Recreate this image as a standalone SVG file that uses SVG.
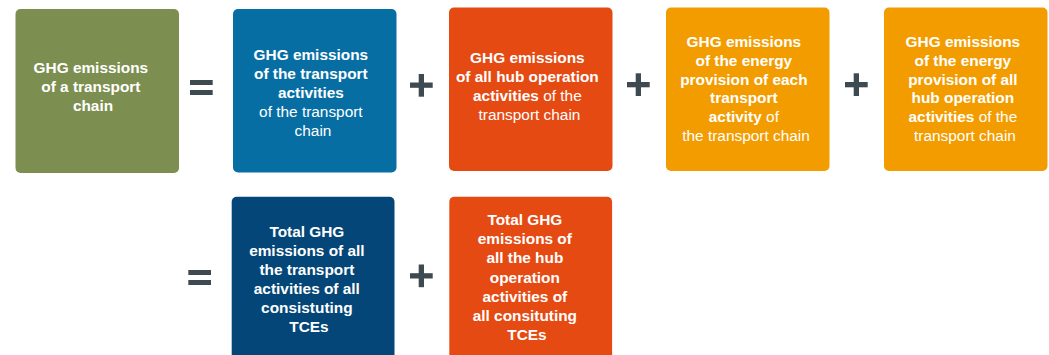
<svg xmlns="http://www.w3.org/2000/svg" width="1049" height="355" viewBox="0 0 1049 355">
  <style>
    .box { stroke: none; }
    .t { font-family: "Liberation Sans", Arial, Helvetica, sans-serif; font-size: 15.4px; fill: #ffffff; text-anchor: middle; }
    .b { font-weight: bold; }
    .n { font-weight: normal; }
    .op { fill: #3e4a51; }
  </style>
  <rect width="1049" height="355" fill="#ffffff"/>

  <g id="node-chain">
    <rect class="box" x="15.5" y="9" width="163.5" height="164" rx="5" fill="#7d8f50"/>
    <text class="t b" x="93">
      <tspan x="93" y="73">GHG emissions</tspan>
      <tspan x="93" y="92">of a transport</tspan>
      <tspan x="93" y="111">chain</tspan>
    </text>
  </g>

  <g id="node-transport">
    <rect class="box" x="233" y="9" width="163.5" height="163.5" rx="5" fill="#076ea4"/>
    <text class="t" x="313">
      <tspan class="b" x="313" y="60">GHG emissions</tspan>
      <tspan class="b" x="313" y="79">of the transport</tspan>
      <tspan class="b" x="313" y="98">activities</tspan>
      <tspan class="n" x="313" y="117">of the transport</tspan>
      <tspan class="n" x="313" y="136">chain</tspan>
    </text>
  </g>

  <g id="node-hub">
    <rect class="box" x="449" y="7.5" width="163.5" height="163.5" rx="5" fill="#e64a13"/>
    <text class="t" x="529.5">
      <tspan class="b" x="529.5" y="63.3">GHG emissions</tspan>
      <tspan class="b" x="529.5" y="82.2">of all hub operation</tspan>
      <tspan x="529.5" y="101.1"><tspan class="b">activities</tspan><tspan class="n"> of the</tspan></tspan>
      <tspan class="n" x="529.5" y="120">transport chain</tspan>
    </text>
  </g>

  <g id="node-energy-transport">
    <rect class="box" x="666" y="7.5" width="163.5" height="163.5" rx="5" fill="#f39c00"/>
    <text class="t" x="746">
      <tspan class="b" x="746" y="47">GHG emissions</tspan>
      <tspan class="b" x="746" y="65.8">of the energy</tspan>
      <tspan class="b" x="746" y="84.6">provision of each</tspan>
      <tspan class="b" x="746" y="103.4">transport</tspan>
      <tspan x="746" y="122.2"><tspan class="b">activity</tspan><tspan class="n"> of</tspan></tspan>
      <tspan class="n" x="746" y="141">the transport chain</tspan>
    </text>
  </g>

  <g id="node-energy-hub">
    <rect class="box" x="884" y="7.5" width="163.5" height="163.5" rx="5" fill="#f39c00"/>
    <text class="t" x="965">
      <tspan class="b" x="965" y="47">GHG emissions</tspan>
      <tspan class="b" x="965" y="65.8">of the energy</tspan>
      <tspan class="b" x="965" y="84.6">provision of all</tspan>
      <tspan class="b" x="965" y="103.4">hub operation</tspan>
      <tspan x="965" y="122.2"><tspan class="b">activities</tspan><tspan class="n"> of the</tspan></tspan>
      <tspan class="n" x="965" y="141">transport chain</tspan>
    </text>
  </g>

  <g id="node-total-transport">
    <rect class="box" x="231.7" y="196.7" width="162.8" height="165" rx="5" fill="#034677"/>
    <text class="t b" x="309">
      <tspan x="309" y="236.5">Total GHG</tspan>
      <tspan x="309" y="255.6">emissions of all</tspan>
      <tspan x="309" y="274.7">the transport</tspan>
      <tspan x="309" y="293.8">activities of all</tspan>
      <tspan x="309" y="312.9">consistuting</tspan>
      <tspan x="309" y="332">TCEs</tspan>
    </text>
  </g>

  <g id="node-total-hub">
    <rect class="box" x="449.3" y="196.7" width="162.8" height="165" rx="5" fill="#e64a13"/>
    <text class="t b" x="527">
      <tspan x="527" y="225">Total GHG</tspan>
      <tspan x="527" y="244.2">emissions of</tspan>
      <tspan x="527" y="263.3">all the hub</tspan>
      <tspan x="527" y="282.5">operation</tspan>
      <tspan x="527" y="301.7">activities of</tspan>
      <tspan x="527" y="320.8">all consituting</tspan>
      <tspan x="527" y="340">TCEs</tspan>
    </text>
  </g>

  <g id="operators" class="op">
    <rect x="190" y="80" width="22.7" height="5"/>
    <rect x="190" y="90" width="22.7" height="5"/>
    <rect x="410" y="82.5" width="22.7" height="5.3"/>
    <rect x="418.7" y="74" width="5.3" height="22.7"/>
    <rect x="627" y="82" width="22.7" height="5.3"/>
    <rect x="635.7" y="73.3" width="5.3" height="22.7"/>
    <rect x="845" y="82" width="22.7" height="5.3"/>
    <rect x="853.7" y="73.3" width="5.3" height="22.7"/>
    <rect x="188.3" y="270" width="22.7" height="5"/>
    <rect x="188.3" y="280" width="22.7" height="5"/>
    <rect x="410" y="273.2" width="22.7" height="5.3"/>
    <rect x="418.7" y="264.5" width="5.3" height="22.7"/>
  </g>
</svg>
